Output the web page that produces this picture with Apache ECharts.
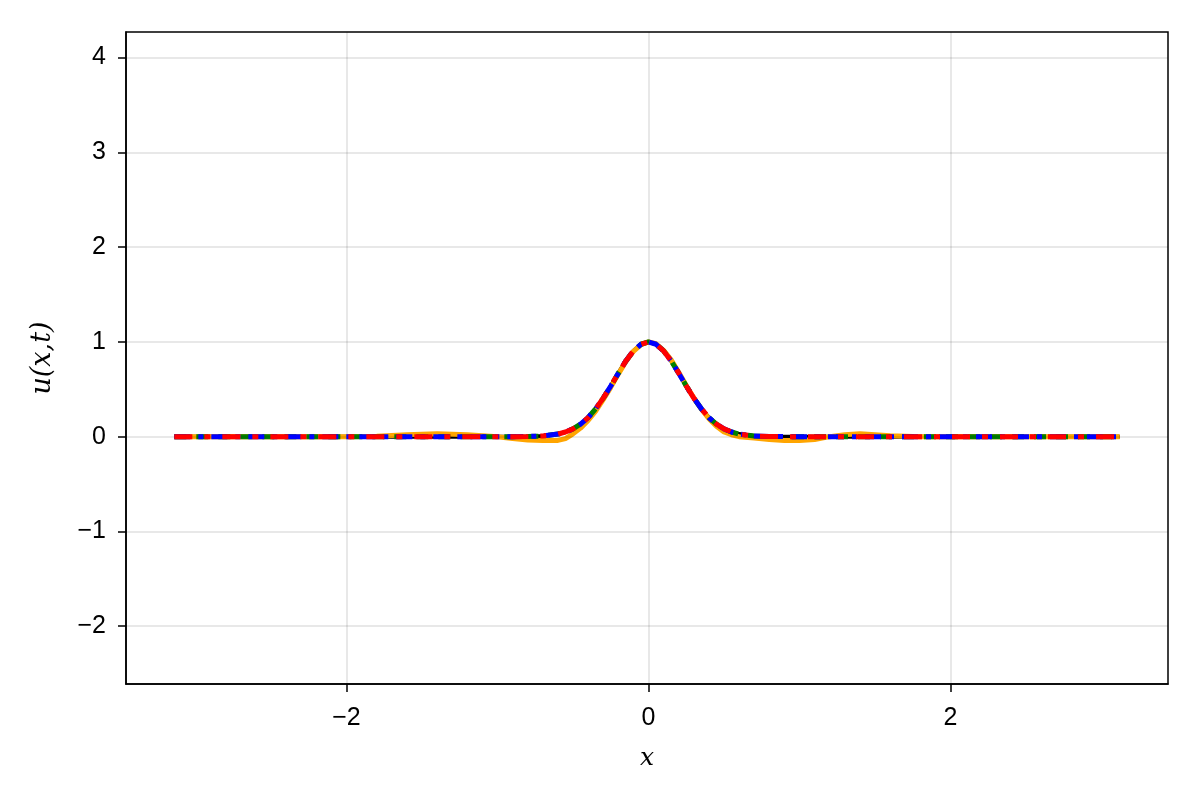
<!DOCTYPE html>
<html>
<head>
<meta charset="utf-8">
<script src="https://cdn.jsdelivr.net/npm/echarts@6/dist/echarts.min.js"></script>
<style>html,body{margin:0;padding:0;background:#fff}#c{width:1200px;height:800px}</style>
</head>
<body>
<div id="c"></div>
<script>
const xs = [-3.14,-3.0,-2.8,-2.6,-2.4,-2.2,-2.0,-1.8,-1.6,-1.4,-1.2,-1.0,-0.9,-0.8,-0.7,-0.6,
  -0.55,-0.5,-0.45,-0.4,-0.35,-0.3,-0.25,-0.2,-0.15,-0.1,-0.05,0,
  0.05,0.1,0.15,0.2,0.25,0.3,0.35,0.4,0.45,0.5,0.55,
  0.6,0.7,0.8,0.9,1.0,1.1,1.2,1.3,1.4,1.5,1.6,1.8,2.0,2.2,2.4,2.6,2.8,3.0,3.12];
const exact = [0,0,0,0,0,0,0,0,0,0,0,0,0.0003,0.002,0.007,0.027,
  0.049,0.082,0.132,0.202,0.294,0.407,0.535,0.670,0.799,0.905,0.975,1.0,
  0.975,0.905,0.799,0.670,0.535,0.407,0.294,0.202,0.132,0.082,0.049,
  0.027,0.007,0.002,0.0003,0,0,0,0,0,0,0,0,0,0,0,0,0,0,0];
const approxOrange = [0,0,0.002,0,-0.002,0,0,0.005,0.02,0.03,0.02,0.0,-0.02,-0.035,-0.04,-0.04,
  -0.02,0.03,0.09,0.17,0.27,0.39,0.52,0.66,0.79,0.90,0.97,1.0,
  0.98,0.91,0.81,0.68,0.54,0.41,0.29,0.19,0.11,0.05,0.02,
  0.0,-0.015,-0.03,-0.04,-0.04,-0.03,0.0,0.02,0.03,0.02,0.01,0,0,0.002,0,-0.002,0,0,0];
const approxGreen = exact;
const approxBlue = exact;
const approxRed = exact;
const xTicks = [-2,0,2];
const yTicks = [-2,-1,0,1,2,3,4];

function pts(ys){ return xs.map((x,i)=>[x, ys[i]]); }
const font = 'Liberation Sans, Arial, sans-serif';
const chart = echarts.init(document.getElementById('c'), null, {renderer:'canvas'});
chart.setOption({
  animation:false,
  backgroundColor:'#fff',
  grid:{left:126, right:32, top:32, bottom:116, show:true, borderColor:'#000', borderWidth:1.5, backgroundColor:'transparent'},
  xAxis:{type:'value', min:-3.46, max:3.44,
    name:'x', nameLocation:'middle', nameGap:62,
    nameTextStyle:{fontFamily:'DejaVu Serif, Liberation Serif, serif', fontStyle:'italic', fontSize:25, color:'#000'},
    axisLine:{show:true, onZero:false, lineStyle:{color:'#000', width:1.5}},
    axisTick:{show:true, inside:false, length:8, customValues:xTicks, lineStyle:{color:'#000', width:1.5}},
    axisLabel:{customValues:xTicks, margin:22, fontSize:25, fontFamily:font, color:'#000',
      formatter:v=>String(v).replace('-','\u2212')},
    splitLine:{show:false}},
  yAxis:{type:'value', min:-2.61, max:4.27,
    name:'u(x,t)', nameLocation:'middle', nameGap:70, nameRotate:90,
    nameTextStyle:{fontFamily:'DejaVu Serif, Liberation Serif, serif', fontStyle:'italic', fontSize:27, color:'#000'},
    axisLine:{show:true, onZero:false, lineStyle:{color:'#000', width:1.5}},
    axisTick:{show:true, inside:false, length:8, customValues:yTicks, lineStyle:{color:'#000', width:1.5}},
    axisLabel:{customValues:yTicks, margin:20, fontSize:25, fontFamily:font, color:'#000',
      formatter:v=>String(v).replace('-','\u2212')},
    splitLine:{show:false}},
  series:[
    {type:'line', name:'grid', symbol:'none', data:[], z:0, silent:true,
     markLine:{silent:true, symbol:'none', label:{show:false}, animation:false,
       lineStyle:{color:'rgba(0,0,0,0.12)', width:1.5, type:'solid'},
       data: xTicks.map(v=>({xAxis:v})).concat(yTicks.map(v=>({yAxis:v})))}},
    {type:'line', name:'exact', data:pts(exact), symbol:'none', z:2, lineStyle:{color:'#000', width:4, type:'solid'}},
    {type:'line', name:'orange', data:pts(approxOrange), symbol:'none', z:3, lineStyle:{color:'#FFA500', width:5, type:'solid'}},
    {type:'line', name:'green', data:pts(approxGreen), symbol:'none', z:4, lineStyle:{color:'#008000', width:5, type:[12,10]}},
    {type:'line', name:'blue', data:pts(approxBlue), symbol:'none', z:5, lineStyle:{color:'#0000FF', width:5, type:[16,8,5,8]}},
    {type:'line', name:'red', data:pts(approxRed), symbol:'none', z:6, lineStyle:{color:'#FF0000', width:5, type:[18,12,6,12]}}
  ]
});
</script>
</body>
</html>
